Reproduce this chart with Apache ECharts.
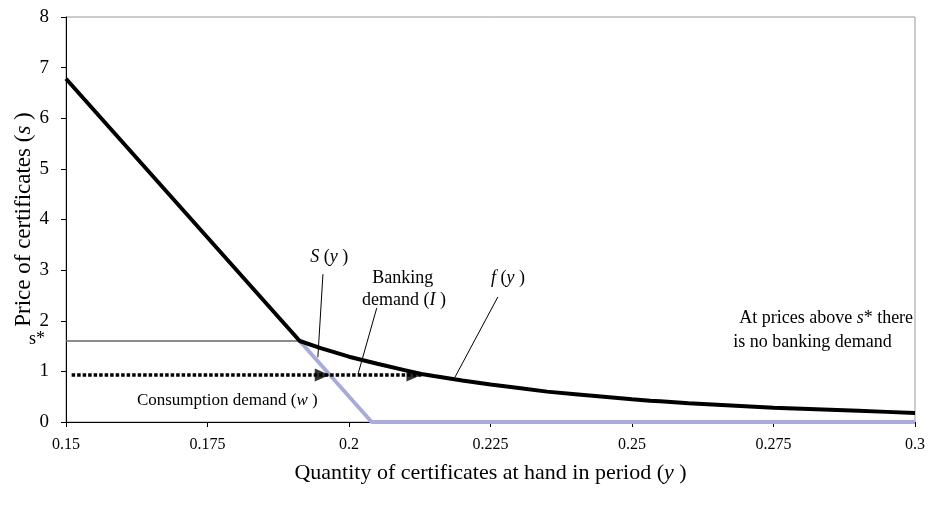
<!DOCTYPE html>
<html>
<head>
<meta charset="utf-8">
<script src="https://cdn.jsdelivr.net/npm/echarts@6/dist/echarts.min.js"></script>
<style>
  html, body { margin: 0; padding: 0; background: #fff; }
  #chart { width: 929px; height: 505px; }
</style>
</head>
<body>
<div id="chart"></div>
<script>
// total demand f(y) : steep linear part, kink at s*, then decaying curve
const demandX = [0.15, 0.1913, 0.195, 0.2, 0.205, 0.21, 0.2128, 0.215, 0.22, 0.225, 0.23, 0.235, 0.24, 0.245, 0.25, 0.2532,
  0.255, 0.26, 0.265, 0.27, 0.275, 0.28, 0.285, 0.29, 0.295, 0.3];
const demandY = [6.78, 1.6, 1.46, 1.29, 1.15, 1.02, 0.95, 0.91, 0.82, 0.74, 0.67, 0.6, 0.55, 0.5, 0.45, 0.42,
  0.41, 0.37, 0.34, 0.31, 0.28, 0.26, 0.24, 0.22, 0.2, 0.18];
// S(y)
const supplyX = [0.1913, 0.204, 0.3];
const supplyY = [1.6, 0, 0];
// s* level
const sStarX = [0.15, 0.1913];
const sStarY = [1.6, 1.6];
// dotted arrow line and arrow tips
const arrowX = [0.151, 0.2128];
const arrowY = [0.93, 0.93];
const arrowTipX = [0.1966, 0.2128];
const arrowTipY = [0.93, 0.93];
// leader lines for labels
const leaderS = [[0.1954, 2.92], [0.1945, 1.28]];
const leaderI = [[0.2049, 2.25], [0.2016, 0.95]];
const leaderF = [[0.2263, 2.47], [0.2187, 0.88]];
const xTicks = [0.15, 0.175, 0.2, 0.225, 0.25, 0.275, 0.3];

const pairs = (xs, ys) => xs.map((x, i) => [x, ys[i]]);
const serif = "Liberation Serif";

const chart = echarts.init(document.getElementById("chart"));

const leader = data => ({
  type: "line",
  data: data,
  symbol: "none",
  silent: true,
  lineStyle: { color: "#000", width: 1 },
  z: 3
});

const option = {
  animation: false,
  grid: {
    left: 66, right: 14, top: 17, bottom: 83,
    outerBoundsMode: "none",
    containLabel: false,
    show: true, borderColor: "#999", borderWidth: 1
  },
  xAxis: {
    type: "value",
    min: xTicks[0],
    max: xTicks[xTicks.length - 1],
    interval: 0.025,
    axisLine: { lineStyle: { color: "#000", width: 1 } },
    axisTick: { show: true, length: 5, lineStyle: { color: "#000" } },
    splitLine: { show: false },
    axisLabel: {
      color: "#000",
      fontFamily: serif,
      fontSize: 16,
      margin: 15,
      formatter: v => String(parseFloat(v.toFixed(3)))
    },
    name: "{t|Quantity of certificates at hand in period (}{i|y}{t| )}",
    nameLocation: "middle",
    nameGap: 40,
    nameMoveOverlap: false,
    nameTextStyle: {
      rich: {
        t: { fontFamily: serif, fontSize: 22, color: "#000" },
        i: { fontFamily: serif, fontSize: 22, color: "#000", fontStyle: "italic" }
      }
    }
  },
  yAxis: {
    type: "value",
    min: 0,
    max: 8,
    interval: 1,
    axisLine: { show: true, lineStyle: { color: "#000", width: 1 } },
    axisTick: { show: true, length: 5, lineStyle: { color: "#000" } },
    splitLine: { show: false },
    axisLabel: { color: "#000", fontFamily: serif, fontSize: 19, margin: 17 },
    name: "{t|Price of certificates (}{i|s}{t| )}",
    nameLocation: "middle",
    nameGap: 31,
    nameMoveOverlap: false,
    nameTextStyle: {
      rich: {
        t: { fontFamily: serif, fontSize: 23, color: "#000" },
        i: { fontFamily: serif, fontSize: 23, color: "#000", fontStyle: "italic" }
      }
    }
  },
  series: [
    {
      type: "line",
      data: pairs(sStarX, sStarY),
      symbol: "none",
      lineStyle: { color: "#666", width: 1.5 },
      z: 1
    },
    {
      type: "line",
      data: pairs(supplyX, supplyY),
      symbol: "none",
      lineStyle: { color: "#a9acdb", width: 4 },
      z: 2
    },
    {
      type: "line",
      data: pairs(demandX, demandY),
      symbol: "none",
      smooth: false,
      lineStyle: { color: "#000", width: 4 },
      z: 4
    },
    {
      type: "line",
      data: pairs(arrowX, arrowY),
      symbol: "none",
      lineStyle: { color: "#000", width: 3.5, type: [3.5, 2] },
      z: 5
    },
    {
      type: "scatter",
      data: pairs(arrowTipX, arrowTipY),
      symbol: "path://M0,0 L14,6 L0,12 Z",
      symbolSize: [15, 13],
      symbolOffset: [-7.5, 0],
      itemStyle: { color: "#000" },
      z: 6
    },
    leader(leaderS),
    leader(leaderI),
    leader(leaderF)
  ]
};

chart.setOption(option);

// text annotations placed at data positions
const rich = size => ({
  t: { fontFamily: serif, fontSize: size, fill: "#000" },
  i: { fontFamily: serif, fontSize: size, fill: "#000", fontStyle: "italic" }
});
const notes = [
  { at: [0.1965, 3.25], size: 18, text: "{i|S}{t| (}{i|y}{t| )}" },
  { at: [0.2095, 2.83], size: 18, text: "{t|Banking}" },
  { at: [0.2097, 2.4], size: 18, text: "{t|demand (}{i|I}{t| )}" },
  { at: [0.2281, 2.83], size: 18, text: "{i|f}{t| (}{i|y}{t| )}" },
  { at: [0.2843, 2.05], size: 18, text: "{t|At prices above }{i|s}{t|* there}" },
  { at: [0.2819, 1.58], size: 18, text: "{t|is no banking demand}" },
  { at: [0.1785, 0.42], size: 17, text: "{t|Consumption demand (}{i|w}{t| )}" }
];
const graphic = notes.map(n => {
  const p = chart.convertToPixel({ gridIndex: 0 }, n.at);
  return {
    type: "text",
    x: p[0],
    y: p[1],
    style: { text: n.text, rich: rich(n.size), align: "center", verticalAlign: "middle" }
  };
});
const sp = chart.convertToPixel({ gridIndex: 0 }, [xTicks[0], sStarY[0]]);
graphic.push({
  type: "text",
  x: sp[0] - 21,
  y: sp[1] - 2,
  style: { text: "s*", font: "18px " + serif, fill: "#000", align: "right", verticalAlign: "middle" }
});
chart.setOption({ graphic: graphic });
</script>
</body>
</html>
